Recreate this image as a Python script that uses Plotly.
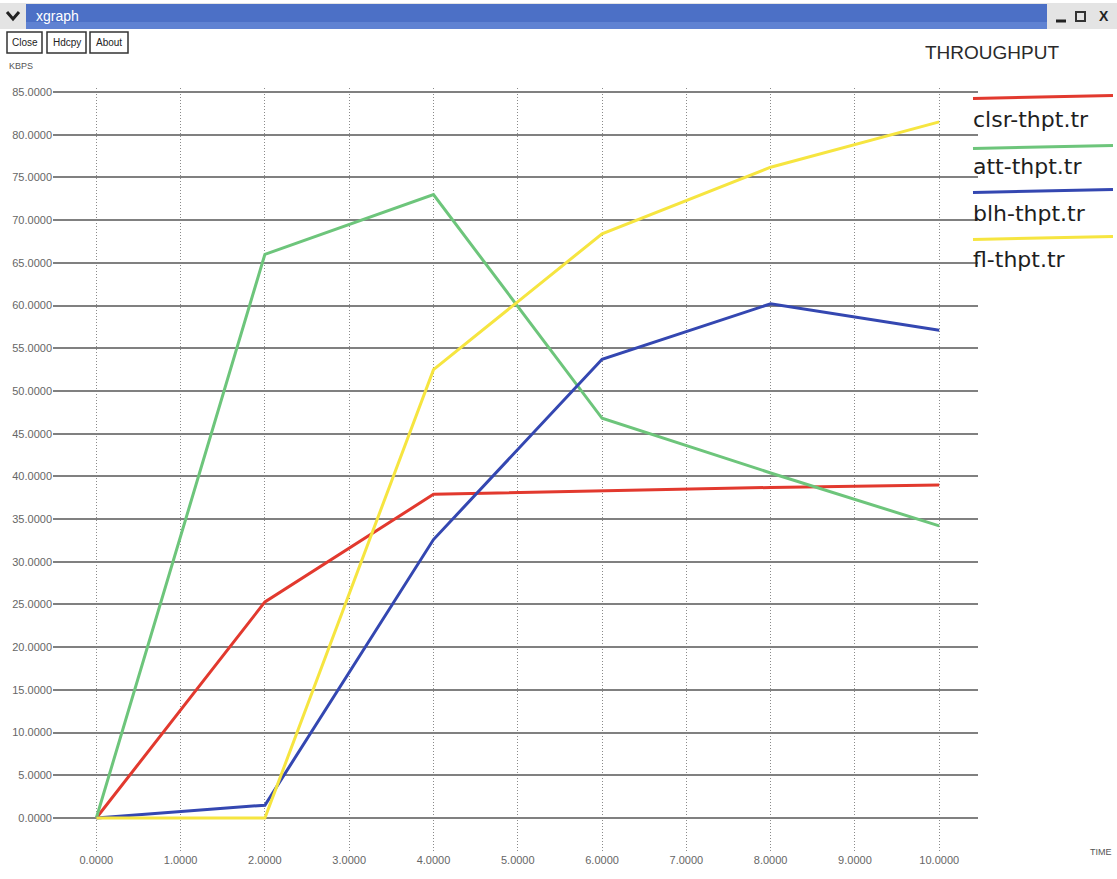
import plotly.graph_objects as go

# ---- data ----
time = [0, 2, 4, 6, 8, 10]
clsr = [0.0, 25.3, 37.9, 38.3, 38.7, 39.0]
att = [0.0, 66.0, 73.0, 46.8, 40.4, 34.2]
blh = [0.0, 1.5, 32.6, 53.7, 60.2, 57.1]
fl = [0.0, 0.0, 52.5, 68.4, 76.2, 81.5]
series_names = ["clsr-thpt.tr", "att-thpt.tr", "blh-thpt.tr", "fl-thpt.tr"]
series_colors = ["#e2392e", "#6dc57b", "#3447b1", "#f6e540"]
x_ticks = [0, 1, 2, 3, 4, 5, 6, 7, 8, 9, 10]
y_ticks = list(range(0, 90, 5))

# ---- layout geometry (pixels) ----
W, H = 1117, 879
L, R, T, B = 53, 978, 88, 852
pw, ph = R - L, B - T


def fx(p):
    return (p - L) / pw


def fy(p):
    return (B - p) / ph


fig = go.Figure()
for name, ys, col in zip(series_names, [clsr, att, blh, fl], series_colors):
    fig.add_trace(go.Scatter(x=time, y=ys, mode="lines", name=name,
                             line=dict(color=col, width=3), showlegend=False))

shapes = []
annotations = []

# title bar
shapes.append(dict(type="rect", xref="paper", yref="paper", x0=fx(0), x1=fx(1117), y0=fy(29), y1=fy(3),
                   fillcolor="#e4e4e4", line=dict(width=0), layer="above"))
shapes.append(dict(type="rect", xref="paper", yref="paper", x0=fx(26), x1=fx(1047), y0=fy(29), y1=fy(4),
                   fillcolor="#4c70c6", line=dict(width=0), layer="above"))
shapes.append(dict(type="rect", xref="paper", yref="paper", x0=fx(26), x1=fx(1047), y0=fy(29), y1=fy(22),
                   fillcolor="#5f82d2", line=dict(width=0), layer="above"))
# chevron
shapes.append(dict(type="path", xref="paper", yref="paper",
                   path=f"M {fx(7)},{fy(12)} L {fx(13)},{fy(19)} L {fx(19)},{fy(12)}",
                   line=dict(color="#222", width=3), layer="above"))
annotations.append(dict(text="xgraph", xref="paper", yref="paper", x=fx(34), y=fy(16),
                        xanchor="left", yanchor="middle", showarrow=False,
                        font=dict(family="Liberation Sans", size=14, color="white")))
# window buttons
shapes.append(dict(type="line", xref="paper", yref="paper", x0=fx(1056), x1=fx(1066), y0=fy(21), y1=fy(21),
                   line=dict(color="#222", width=3), layer="above"))
shapes.append(dict(type="rect", xref="paper", yref="paper", x0=fx(1076), x1=fx(1085), y0=fy(21), y1=fy(12),
                   line=dict(color="#333", width=2), fillcolor="rgba(0,0,0,0)", layer="above"))
annotations.append(dict(text="<b>X</b>", xref="paper", yref="paper", x=fx(1104), y=fy(16),
                        xanchor="center", yanchor="middle", showarrow=False,
                        font=dict(family="Liberation Sans", size=14, color="#222")))

# buttons
for label, x0, x1 in [("Close", 7, 42), ("Hdcpy", 47, 86), ("About", 90, 128)]:
    shapes.append(dict(type="rect", xref="paper", yref="paper", x0=fx(x0), x1=fx(x1), y0=fy(53), y1=fy(32),
                       line=dict(color="#333", width=1.5), fillcolor="white", layer="above"))
    annotations.append(dict(text=label, xref="paper", yref="paper", x=fx((x0 + x1) / 2), y=fy(42.5),
                            xanchor="center", yanchor="middle", showarrow=False,
                            font=dict(family="Liberation Sans", size=10, color="#222")))

annotations.append(dict(text="KBPS", xref="paper", yref="paper", x=fx(7), y=fy(66),
                        xanchor="left", yanchor="middle", showarrow=False,
                        font=dict(family="Liberation Sans", size=9, color="#555")))
annotations.append(dict(text="TIME", xref="paper", yref="paper", x=fx(1088), y=fy(852),
                        xanchor="left", yanchor="middle", showarrow=False,
                        font=dict(family="Liberation Sans", size=9, color="#555")))
annotations.append(dict(text="THROUGHPUT", xref="paper", yref="paper", x=fx(923), y=fy(52),
                        xanchor="left", yanchor="middle", showarrow=False,
                        font=dict(family="Liberation Sans", size=19, color="#2a2a2a")))

# custom legend
leg_line_y = [97, 147, 191, 238]
leg_text_y = [119, 166, 213, 259]
for name, col, ly, ty in zip(series_names, series_colors, leg_line_y, leg_text_y):
    shapes.append(dict(type="line", xref="paper", yref="paper", x0=fx(973), x1=fx(1113),
                       y0=fy(ly + 1.5), y1=fy(ly - 1.5), line=dict(color=col, width=3), layer="above"))
    annotations.append(dict(text=name, xref="paper", yref="paper", x=fx(971), y=fy(ty),
                            xanchor="left", yanchor="middle", showarrow=False,
                            font=dict(family="DejaVu Sans", size=22, color="#1e1e1e")))

fig.update_layout(
    width=W, height=H,
    margin=dict(l=L, r=W - R, t=T, b=H - B, pad=0),
    paper_bgcolor="white", plot_bgcolor="white",
    shapes=shapes, annotations=annotations,
    xaxis=dict(range=[-0.514, 10.46], tickvals=x_ticks, tickformat=".4f",
               showgrid=True, gridcolor="#8a8a8a", griddash="1px,2px", gridwidth=1.2,
               zeroline=False, showline=False, ticks="", automargin=False,
               tickfont=dict(family="Liberation Sans", size=11, color="#666")),
    yaxis=dict(range=[-3.98, 85.47], tickvals=y_ticks, tickformat=".4f",
               showgrid=True, gridcolor="#808080", gridwidth=1.5,
               zeroline=False, showline=False, ticks="", automargin=False,
               tickfont=dict(family="Liberation Sans", size=11, color="#666")),
)

fig.write_html("out.html", config={"displayModeBar": False},
               post_script="document.body.style.margin='0';document.body.style.overflow='hidden';")
